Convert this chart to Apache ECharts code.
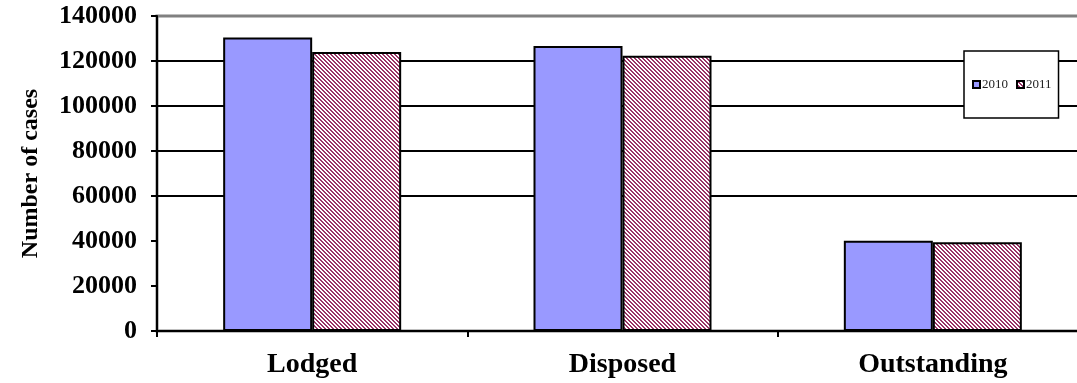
<!DOCTYPE html>
<html>
<head>
<meta charset="utf-8">
<script src="https://cdn.jsdelivr.net/npm/echarts@6/dist/echarts.min.js"></script>
<style>
html,body{margin:0;padding:0;background:#fff;overflow:hidden;}
#chart{width:1092px;height:383px;}
</style>
</head>
<body>
<div id="chart"></div>
<script>
const categories = ['Lodged', 'Disposed', 'Outstanding'];
const values2010 = [130500, 126700, 40100];
const values2011 = [124000, 122300, 39400];
const seriesNames = ['2010', '2011'];
const yAxisTitle = 'Number of cases';
const gridValues = [60000, 80000, 100000, 120000];

function makeHatch() {
  const c = document.createElement('canvas');
  c.width = 4; c.height = 4;
  const ctx = c.getContext('2d');
  ctx.fillStyle = '#ffffff';
  ctx.fillRect(0, 0, 4, 4);
  ctx.fillStyle = '#993366';
  for (let y = 0; y < 4; y++) {
    for (let x = 0; x < 4; x++) {
      if (((x - y + 8) % 4) < 2) ctx.fillRect(x, y, 1, 1);
    }
  }
  return c;
}

const chart = echarts.init(document.getElementById('chart'), null, {renderer: 'canvas'});
const serif = '"Liberation Serif", "Times New Roman", serif';

chart.setOption({
  animation: false,
  backgroundColor: '#ffffff',
  grid: {
    left: 157, top: 16, width: 931, height: 315, containLabel: false,
    show: true, borderColor: '#808080', borderWidth: 3, backgroundColor: 'transparent'
  },
  legend: {
    data: seriesNames,
    left: 964, top: 51,
    orient: 'horizontal',
    padding: [27, 7, 27, 8],
    backgroundColor: '#ffffff',
    borderColor: '#000000',
    borderWidth: 1.5,
    itemWidth: 7, itemHeight: 7, itemGap: 8,
    icon: 'rect',
    textStyle: { fontFamily: serif, fontSize: 13, color: '#222', padding: [0, 0, 0, -3] }
  },
  xAxis: {
    type: 'category',
    data: categories,
    axisLine: { lineStyle: { color: '#000', width: 2 } },
    axisTick: { show: true, length: 6, lineStyle: { color: '#000', width: 2 } },
    axisLabel: { fontFamily: serif, fontWeight: 'bold', fontSize: 28, color: '#000', margin: 20 },
    splitLine: { show: false }
  },
  yAxis: {
    type: 'value',
    min: 0, max: 140000, interval: 20000,
    name: yAxisTitle,
    nameLocation: 'middle',
    nameGap: 114,
    nameRotate: 90,
    nameTextStyle: { fontFamily: serif, fontWeight: 'bold', fontSize: 24, color: '#000' },
    axisLine: { show: true, lineStyle: { color: '#000', width: 2 } },
    axisTick: { show: true, length: 6, lineStyle: { color: '#000', width: 2 } },
    axisLabel: {
      fontFamily: serif, fontWeight: 'bold', fontSize: 26, color: '#000', margin: 20,
      formatter: function (v) { return String(v); }
    },
    splitLine: { show: false }
  },
  series: [
    {
      name: seriesNames[0],
      type: 'bar',
      data: values2010,
      barWidth: 89,
      barGap: '0%',
      z: 3,
      itemStyle: { color: '#9999ff', borderColor: '#000', borderWidth: 2 },
      markLine: {
        silent: true,
        z: 1,
        symbol: ['none', 'none'],
        label: { show: false },
        lineStyle: { color: '#000', width: 2, type: 'solid' },
        data: gridValues.map(function (v) { return { yAxis: v }; })
      }
    },
    {
      name: seriesNames[1],
      type: 'bar',
      data: values2011,
      barWidth: 89,
      barGap: '0%',
      z: 3,
      itemStyle: { color: { image: makeHatch(), repeat: 'repeat' }, borderColor: '#000', borderWidth: 2 }
    }
  ]
});
</script>
</body>
</html>
